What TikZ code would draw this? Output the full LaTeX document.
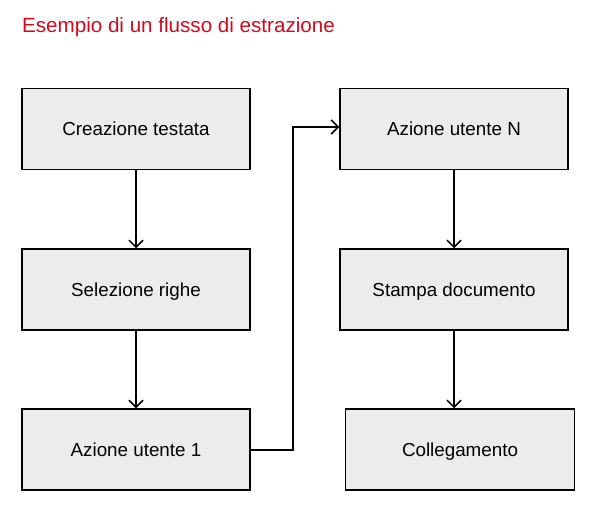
\documentclass[tikz,border=0pt]{standalone}
\usepackage{fontspec}
\setmainfont{Liberation Sans}
\usetikzlibrary{arrows.meta}
\definecolor{titlered}{RGB}{210,10,30}
\definecolor{boxfill}{RGB}{236,236,236}
\begin{document}
\begin{tikzpicture}[x=1pt,y=-1pt,
  stepbox/.style={draw=black,fill=boxfill,line width=1.5pt,rectangle,
    minimum width=228pt,minimum height=81pt,inner sep=0pt,
    text height=13.5pt,text depth=0pt,
    font=\fontsize{18.8pt}{22pt}\selectfont},
  conn/.style={line width=1.5pt,-{Straight Barb[length=7pt,width=14pt,line width=1.5pt]}}]
\useasboundingbox (0,0) rectangle (600,516);
\fill[white] (0,0) rectangle (600,516);
\node[anchor=base west,text=titlered,inner sep=0pt,font=\fontsize{20.6pt}{24pt}\selectfont] (title) at (22,33) {Esempio di un flusso di estrazione};
\node[stepbox] (a) at (136,129) {Creazione testata};
\node[stepbox] (b) at (136,289.5) {Selezione righe};
\node[stepbox] (c) at (136,449.5) {Azione utente 1};
\node[stepbox] (d) at (454,129) {Azione utente N};
\node[stepbox] (e) at (454,289.5) {Stampa documento};
\node[stepbox,minimum width=229pt] (f) at (460,449.5) {Collegamento};
\coordinate (t) at (293,127);
\draw[conn] (a.south) -- (b.north);
\draw[conn] (b.south) -- (c.north);
\draw[conn] (c.east |- 0,450) -| (t) -- (d.west |- t);
\draw[conn] (d.south) -- (e.north);
\draw[conn] (e.south) -- (e.south |- f.north);
\end{tikzpicture}
\end{document}
